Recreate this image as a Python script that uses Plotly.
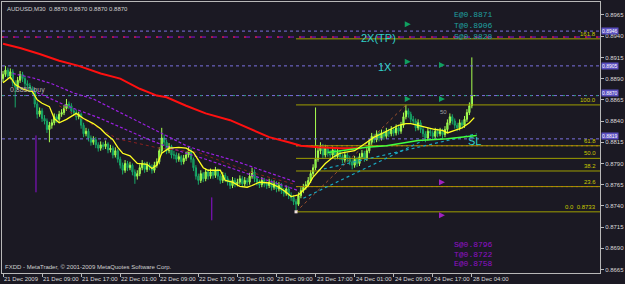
import plotly.graph_objects as go

# ---------------- data (prices in pips, 1 pip = 0.0001) ----------------
opens = [8890,8895,8900,8893,8898,8885,8880,8888,8895,8890,
 8884,8882,8878,8875,8860,8848,8852,8843,8840,8830,
 8835,8838,8845,8842,8848,8850,8855,8860,8858,8852,
 8850,8845,8848,8835,8825,8828,8820,8815,8818,8812,
 8808,8812,8810,8813,8806,8808,8800,8805,8795,8788,
 8782,8790,8785,8788,8780,8775,8778,8785,8790,8783,
 8788,8786,8782,8788,8792,8805,8820,8815,8805,8810,
 8800,8800,8795,8798,8792,8796,8800,8805,8795,8785,
 8775,8770,8778,8772,8780,8775,8780,8776,8782,8775,
 8770,8776,8772,8768,8764,8770,8766,8768,8772,8766,
 8770,8768,8775,8780,8772,8768,8765,8770,8766,8764,
 8768,8762,8766,8760,8764,8758,8755,8760,8752,8750,
 8745,8742,8752,8758,8762,8765,8770,8778,8785,8795,
 8805,8810,8800,8808,8802,8800,8806,8798,8803,8798,
 8794,8800,8796,8792,8788,8795,8790,8798,8802,8796,
 8805,8815,8822,8818,8825,8820,8826,8822,8828,8825,
 8830,8826,8832,8828,8835,8845,8852,8848,8842,8840,
 8832,8838,8830,8825,8820,8828,8826,8822,8828,8825,
 8828,8824,8830,8838,8845,8840,8835,8832,8838,8835,
 8842,8850,8858,8870]
highs = [8899,8905,8903,8902,8901,8888,8892,8899,8898,8893,
 8888,8885,8881,8878,8863,8856,8855,8847,8843,8839,
 8842,8849,8848,8852,8854,8859,8866,8863,8861,8855,
 8853,8851,8850,8838,8832,8831,8823,8822,8821,8815,
 8816,8815,8817,8815,8812,8811,8809,8807,8798,8791,
 8794,8793,8792,8790,8783,8782,8789,8794,8792,8792,
 8791,8789,8792,8796,8809,8832,8824,8818,8814,8812,
 8805,8803,8802,8800,8800,8804,8810,8808,8797,8788,
 8778,8782,8780,8784,8783,8784,8783,8786,8784,8778,
 8780,8779,8775,8771,8774,8773,8772,8776,8775,8774,
 8773,8779,8785,8783,8775,8771,8774,8773,8769,8772,
 8771,8770,8769,8768,8767,8761,8764,8763,8756,8753,
 8748,8756,8762,8766,8769,8774,8782,8789,8856,8810,
 8815,8813,8812,8811,8806,8810,8809,8807,8806,8801,
 8804,8803,8799,8795,8799,8798,8802,8806,8805,8809,
 8819,8826,8825,8829,8828,8830,8829,8832,8831,8834,
 8833,8836,8835,8839,8850,8859,8855,8851,8846,8843,
 8842,8841,8833,8828,8832,8831,8829,8832,8831,8832,
 8831,8834,8842,8849,8848,8843,8838,8842,8841,8846,
 8854,8862,8915,8870]
lows = [8886,8892,8890,8889,8881,8856,8877,8885,8886,8880,
 8878,8874,8871,8856,8843,8845,8839,8836,8826,8815,
 8831,8835,8838,8839,8845,8847,8852,8854,8848,8846,
 8841,8842,8831,8821,8822,8816,8811,8812,8808,8804,
 8805,8806,8807,8802,8803,8796,8797,8791,8784,8777,
 8779,8781,8782,8776,8766,8771,8775,8782,8779,8780,
 8782,8778,8779,8785,8789,8802,8811,8801,8802,8796,
 8795,8791,8792,8788,8789,8793,8797,8791,8781,8771,
 8765,8767,8768,8769,8771,8772,8772,8773,8771,8766,
 8767,8768,8764,8760,8761,8762,8763,8765,8762,8763,
 8764,8765,8772,8768,8764,8761,8762,8762,8760,8761,
 8758,8759,8756,8757,8754,8751,8752,8748,8746,8741,
 8733,8740,8749,8755,8759,8762,8767,8775,8782,8792,
 8801,8796,8797,8798,8796,8797,8794,8795,8794,8790,
 8791,8792,8788,8783,8785,8786,8787,8795,8792,8793,
 8802,8812,8814,8815,8816,8817,8818,8819,8821,8822,
 8822,8823,8824,8825,8832,8842,8844,8838,8836,8828,
 8829,8826,8821,8815,8817,8822,8818,8819,8821,8822,
 8820,8821,8827,8835,8836,8831,8828,8829,8831,8832,
 8839,8847,8855,8870]
closes = [8895,8900,8893,8898,8885,8880,8888,8895,8890,8884,
 8882,8878,8875,8860,8848,8852,8843,8840,8830,8835,
 8838,8845,8842,8848,8850,8855,8860,8858,8852,8850,
 8845,8848,8835,8825,8828,8820,8815,8818,8812,8808,
 8812,8810,8813,8806,8808,8800,8805,8795,8788,8782,
 8790,8785,8788,8780,8775,8778,8785,8790,8783,8788,
 8786,8782,8788,8792,8805,8820,8815,8805,8810,8800,
 8800,8795,8798,8792,8796,8800,8805,8795,8785,8775,
 8770,8778,8772,8780,8775,8780,8776,8782,8775,8770,
 8776,8772,8768,8764,8770,8766,8768,8772,8766,8770,
 8768,8775,8780,8772,8768,8765,8770,8766,8764,8768,
 8762,8766,8760,8764,8758,8755,8760,8752,8750,8745,
 8742,8752,8758,8762,8765,8770,8778,8785,8795,8805,
 8810,8800,8808,8802,8800,8806,8798,8803,8798,8794,
 8800,8796,8792,8788,8795,8790,8798,8802,8796,8805,
 8815,8822,8818,8825,8820,8826,8822,8828,8825,8830,
 8826,8832,8828,8835,8845,8852,8848,8842,8840,8832,
 8838,8830,8825,8820,8828,8826,8822,8828,8825,8828,
 8824,8830,8838,8845,8840,8835,8832,8838,8835,8842,
 8850,8858,8870,8870]

tick_labels = ["21 Dec 2009", "21 Dec 09:00", "21 Dec 17:00", "22 Dec 01:00",
               "22 Dec 09:00", "22 Dec 17:00", "23 Dec 01:00", "23 Dec 09:00",
               "23 Dec 17:00", "24 Dec 01:00", "24 Dec 09:00", "24 Dec 17:00",
               "28 Dec 04:00"]
bars_per_label = 16

# indicator lines (bar index, pips)
red_ma_bar = [0,7,15,23,31,40,48,56,63,67,75,83,93,101,109,117,122,129,138,146]
red_ma_val = [8931,8926,8919,8911,8905,8896,8890,8878,8870,8868,8858,8849,8841,8831,8821,8815,8811,8809,8808,8808]
yel_bar = [0,3,5,8,11,12,14,16,19,21,23,26,30,33,37,40,42,45,47,49,52,55,59,61,63,65,68,72,75,78,
           80,82,84,89,91,94,97,100,102,105,109,113,116,118,121,122,125,127,129,132,135,138,140,144,149,
           152,155,158,162,165,167,170,174,177,180,182,185,188,191,193]
yel_val = [8885,8892,8883,8878,8875,8875,8865,8861,8857,8843,8838,8842,8849,8843,8837,8831,8825,8818,8809,8802,
           8799,8790,8789,8784,8788,8802,8808,8809,8808,8803,8794,8785,8782,8782,8770,8768,8763,8762,8764,8768,
           8767,8762,8756,8751,8753,8756,8764,8774,8780,8790,8797,8802,8803,8805,8815,8821,8825,8829,8835,8837,
           8837,8835,8832,8830,8829,8826,8829,8832,8838,8844]
pur_up_bar = [4,12,20,29,37,44,51,56,61,67,75,82,94,108,120]
pur_up_val = [8896,8891,8884,8873,8866,8856,8846,8839,8831,8823,8811,8804,8794,8780,8768]
pur_lo_bar = [12,26,40,51,59,67,75,83,101,117,121]
pur_lo_val = [8876,8858,8843,8829,8819,8810,8802,8795,8777,8762,8758]
dred_bar = [23,47,64,80,101,120]
dred_val = [8858,8819,8808,8803,8780,8765]
lime_bar = [133,149,157,170,182,194]
lime_val = [8803,8809,8811,8817,8819,8823]
teal_a_bar = [123,172]
teal_a_val = [8749,8817]
teal_b_bar = [129,194]
teal_b_val = [8782,8825]
vert_bars = [13.5, 85.5]
vert_lo = [8756, 8723]
vert_hi = [8823, 8750]

# horizontal objects
dotted_levels = [8946, 8905, 8870, 8819]
dashdot_level = 8939
fib_low, fib_high = 8733, 8859
fib_start_bar, fib_high_bar = 120, 165
fib_ratios = [0.0, 23.6, 38.2, 50.0, 61.8, 100.0, 161.8]

# markers
green_arrow_bar = [167, 167, 167, 181, 181]
green_arrow_val = [8954, 8910, 8866, 8906, 8866]
purple_arrow_bar = [181, 181]
purple_arrow_val = [8768, 8729]

top_notes = ["E@0.8871", "T@0.8906", "S@0.8828"]
top_notes_val = [8965, 8953, 8940]
bottom_notes = ["S@0.8796", "T@0.8722", "E@0.8758"]
bottom_notes_val = [8695, 8683, 8672]
notes_bar = 183.7

# ---------------- style ----------------
P = lambda v: v / 10000.0
BG = "#1b1923"
FONT = "Liberation Sans"
X_MIN, X_MAX = -0.41, 244.49
Y_MIN, Y_MAX = 0.86609, 0.89803

fig = go.Figure()
bars = list(range(len(closes)))

def line(xs, ys, color, width=1, dash="solid"):
    fig.add_trace(go.Scatter(x=xs, y=[P(v) for v in ys], mode="lines",
                             line=dict(color=color, width=width, dash=dash),
                             hoverinfo="skip"))

# horizontal lines (full width)
for lv in dotted_levels:
    line([X_MIN, X_MAX], [lv, lv], "#7b70e0", 1, "dot")
line([X_MIN, X_MAX], [dotted_levels[2]] * 2, "#2a9a78", 1, "2px,9px")
line([X_MIN, X_MAX], [dashdot_level] * 2, "#9010d8", 1, "6px,5px")
line([X_MIN, X_MAX], [dashdot_level] * 2, "#ff2020", 1, "2px,9px")

# fib levels
fib_vals = [fib_low + r / 100.0 * (fib_high - fib_low) for r in fib_ratios]
for r, v in zip(fib_ratios, fib_vals):
    line([fib_start_bar, X_MAX], [v, v], "#9e9e00", 1)
    if r in (23.6, 61.8):
        line([fib_start_bar, X_MAX], [v, v], "#c07a10", 1, "2px,3px")
line([fib_start_bar, fib_high_bar], [fib_low, fib_high], "#a0522d", 1, "dot")

# moving averages / trend lines
line(pur_up_bar, pur_up_val, "#9a20e0", 1.2, "3px,2px")
line(pur_lo_bar, pur_lo_val, "#9a20e0", 1.2, "3px,2px")
line(dred_bar, dred_val, "#8b2020", 1, "dot")
line(red_ma_bar, red_ma_val, "#ff1010", 2)
line(teal_a_bar, teal_a_val, "#1aa8c0", 1.2, "3px,3px")
line(teal_b_bar, teal_b_val, "#1aa8c0", 1.2, "3px,3px")
for b, lo, hi in zip(vert_bars, vert_lo, vert_hi):
    line([b, b], [lo, hi], "#9010d8", 1)

fig.add_trace(go.Candlestick(
    x=bars, open=[P(v) for v in opens], high=[P(v) for v in highs],
    low=[P(v) for v in lows], close=[P(v) for v in closes],
    increasing=dict(line=dict(color="#a8ff50", width=1), fillcolor="#40e040"),
    decreasing=dict(line=dict(color="#18a868", width=1), fillcolor="#0e7848"),
    whiskerwidth=0, hoverinfo="skip"))

line(lime_bar, lime_val, "#40ff40", 1.5)
line(yel_bar, yel_val, "#ffff20", 1.3)

fig.add_trace(go.Scatter(x=green_arrow_bar, y=[P(v) for v in green_arrow_val], mode="markers",
                         marker=dict(symbol="arrow-right", size=6, color="#10a060"), hoverinfo="skip"))
fig.add_trace(go.Scatter(x=purple_arrow_bar, y=[P(v) for v in purple_arrow_val], mode="markers",
                         marker=dict(symbol="arrow-right", size=6, color="#a020c0"), hoverinfo="skip"))
fig.add_trace(go.Scatter(x=[fib_start_bar], y=[P(fib_low)], mode="markers",
                         marker=dict(symbol="square", size=3, color="#f0e0e0"), hoverinfo="skip"))

ann = []
def text(x, y, s, color, size=6, xanchor="left", yanchor="middle", xref="x", yref="y", fam=FONT, **kw):
    ann.append(dict(x=x, y=y, text=s, xref=xref, yref=yref, xanchor=xanchor, yanchor=yanchor,
                    showarrow=False, font=dict(family=fam, size=size, color=color), **kw))

# x labels
tick_bars = [i * bars_per_label for i in range(len(tick_labels))]
for b, s in zip(tick_bars, tick_labels):
    text(b, 0, s, "#d8d8d8", 6, "left", "top", "x", "paper", yshift=-1, xshift=-1)

# fib labels
for r, v in zip(fib_ratios, fib_vals):
    s = "%.1f" % r
    if r == 0.0:
        s = "0.0  %.4f" % P(fib_low)
    text(1, P(v), s, "#c8c800", 6, "right", "bottom", "paper", "y", xshift=-2)

# right-axis price boxes
for lv in dotted_levels:
    text(1, P(lv), "%.4f" % P(lv), "#ffffff", 5, "left", "middle", "paper", "y",
         bgcolor="#5a4fc0", borderpad=0, xshift=1, yshift=3 if lv in (8870, 8819) else 0)

# chart texts
text(0.005, 1, "AUDUSD,M30  0.8870 0.8870 0.8870 0.8870", "#d0d0d0", 6, "left", "top", "paper", "paper", yshift=-2)
text(0.002, 0, "FXDD - MetaTrader, \u00a9 2001-2009 MetaQuotes Software Corp.", "#d0d0d0", 6, "left", "bottom", "paper", "paper", yshift=1)
text(2, P(8877), "0.8850 buy", "#b0b0b0", 7, "left", "middle")
text(153.9, P(8938), "2X(TP)", "#30d0c8", 11, "center", "middle")
text(156.3, P(8904), "1X", "#30d0c8", 11, "center", "middle")
text(193.0, P(8816), "SL", "#30d0c8", 11, "center", "middle")
text(180.4, P(8851), "50", "#a0a0a0", 6, "center", "middle")
for s, v in zip(top_notes, top_notes_val):
    text(notes_bar, P(v), s, "#1fa0a0", 8, "left", "middle", fam="Liberation Mono")
for s, v in zip(bottom_notes, bottom_notes_val):
    text(notes_bar, P(v), s, "#9010c8", 8, "left", "middle", fam="Liberation Mono")

yt = list(range(8665, 8966, 25))
fig.update_layout(
    width=625, height=284, margin=dict(l=2, r=23, t=1, b=11),
    paper_bgcolor=BG, plot_bgcolor=BG, showlegend=False, annotations=ann,
    xaxis=dict(range=[X_MIN, X_MAX], showgrid=False, zeroline=False, showline=True, mirror=True,
               linecolor="#b8b8b8", linewidth=1, ticks="outside", ticklen=3, tickcolor="#b8b8b8",
               tickvals=tick_bars, showticklabels=False, rangeslider=dict(visible=False)),
    yaxis=dict(range=[Y_MIN, Y_MAX], side="right", showgrid=False, zeroline=False, showline=True,
               mirror=True, linecolor="#b8b8b8", linewidth=1, ticks="outside", ticklen=3,
               tickcolor="#b8b8b8", tickvals=[P(v) for v in yt],
               ticktext=["%.4f" % P(v) for v in yt],
               tickfont=dict(family=FONT, size=6, color="#d8d8d8")),
)

fig.write_html("out.html")
